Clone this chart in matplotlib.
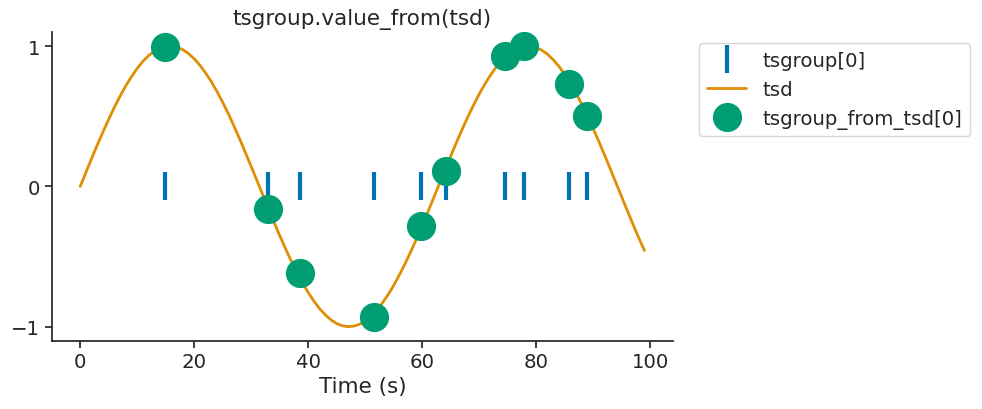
import numpy as np
import matplotlib
matplotlib.use("Agg")
import matplotlib.pyplot as plt
import seaborn as sns

# tsd: one sample per second, 0..99 s
tsd_times = np.arange(100)
tsd_values = [
    0.000, 0.100, 0.199, 0.296, 0.389, 0.479, 0.565, 0.644, 0.717, 0.783,
    0.841, 0.891, 0.932, 0.964, 0.985, 0.997, 1.000, 0.992, 0.974, 0.946,
    0.909, 0.863, 0.808, 0.746, 0.675, 0.598, 0.516, 0.427, 0.335, 0.239,
    0.141, 0.042, -0.058, -0.158, -0.256, -0.351, -0.443, -0.530, -0.612, -0.688,
    -0.757, -0.818, -0.872, -0.916, -0.952, -0.978, -0.994, -1.000, -0.996, -0.983,
    -0.959, -0.926, -0.883, -0.832, -0.773, -0.706, -0.631, -0.551, -0.465, -0.374,
    -0.279, -0.182, -0.083, 0.017, 0.117, 0.215, 0.312, 0.405, 0.494, 0.578,
    0.657, 0.729, 0.794, 0.850, 0.899, 0.938, 0.968, 0.988, 0.999, 0.999,
    0.989, 0.970, 0.941, 0.902, 0.855, 0.798, 0.734, 0.663, 0.585, 0.501,
    0.412, 0.319, 0.223, 0.125, 0.025, -0.075, -0.174, -0.272, -0.367, -0.457,
]

# tsgroup[0] event times and the values picked from tsd
event_times = [14.9, 33.0, 38.6, 51.5, 59.8, 64.1, 74.6, 77.9, 85.7, 89.0]
event_values = [0.99, -0.16, -0.62, -0.93, -0.28, 0.11, 0.93, 1.00, 0.73, 0.50]

sns.set_theme(style="ticks", palette="colorblind")
plt.rcParams["font.family"] = ["DejaVu Sans"]
pal = sns.color_palette("colorblind")

fig = plt.figure(figsize=(9.82, 4.1), dpi=100)
ax = fig.add_axes([0.053, 0.1666, 0.632, 0.7529])

ax.plot(event_times, np.zeros(len(event_times)), "|", color=pal[0],
        markersize=20, mew=3, label="tsgroup[0]")
ax.plot(tsd_times, tsd_values, color=pal[1], lw=2, label="tsd")
ax.plot(event_times, event_values, "o", color=pal[2], markersize=20,
        label="tsgroup_from_tsd[0]")

ax.set_title("tsgroup.value_from(tsd)", fontsize=15.5)
ax.set_xlabel("Time (s)", fontsize=15.5, labelpad=3)
ax.set_xticks([0, 20, 40, 60, 80, 100])
ax.set_yticks([-1, 0, 1])
ax.tick_params(labelsize=14.2, length=5, width=1.25)
sns.despine(ax=ax)

ax.legend(loc="upper left", bbox_to_anchor=(0.7118, 0.8927),
          bbox_transform=fig.transFigure, borderaxespad=0, fontsize=14.2)

fig.savefig("out.png", dpi=100)
